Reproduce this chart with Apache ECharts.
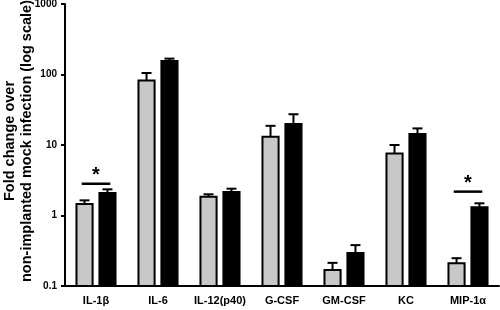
<!DOCTYPE html>
<html>
<head>
<meta charset="utf-8">
<script src="https://cdn.jsdelivr.net/npm/echarts@6/dist/echarts.min.js"></script>
<style>
  html, body { margin: 0; padding: 0; background: #fff; }
  #main { width: 500px; height: 310px; }
</style>
</head>
<body>
<div id="main"></div>
<script>
// cytokine categories
var categories = ['IL-1β', 'IL-6', 'IL-12(p40)', 'G-CSF', 'GM-CSF', 'KC', 'MIP-1α'];
// grey bars (mock) and black bars (implanted): mean and mean+SEM
var greyMean  = [1.46, 82, 1.85, 13.1, 0.168, 7.6, 0.211];
var greyTop   = [1.64, 105, 2.0, 18.7, 0.213, 10, 0.248];
var blackMean = [2.09, 156, 2.16, 19.9, 0.295, 14.3, 1.31];
var blackTop  = [2.35, 168, 2.4, 27.3, 0.38, 17.2, 1.49];
// significance markers
var sigIndex = [0, 6];
var sigLevel = [2.82, 2.18];

var FONT = '"Liberation Sans", Arial, sans-serif';
var OFFSET = 0.185;   // bar centre offset, in category bands
var WIDTH = 0.26;     // bar width, in category bands

function barRender(sign, color) {
    return function (params, api) {
        var band = api.size([1, 0], [api.value(0), 1])[0];
        var top = api.coord([api.value(0), api.value(1)]);
        var base = api.coord([api.value(0), 0.1]);
        var w = band * WIDTH;
        var cx = top[0] + sign * band * OFFSET;
        return {
            type: 'rect',
            shape: { x: cx - w / 2, y: top[1], width: w, height: base[1] - top[1] },
            style: { fill: color, stroke: '#000', lineWidth: 2 }
        };
    };
}

function errRender(sign) {
    return function (params, api) {
        var band = api.size([1, 0], [api.value(0), 1])[0];
        var low = api.coord([api.value(0), api.value(1)]);
        var high = api.coord([api.value(0), api.value(2)]);
        var cx = low[0] + sign * band * OFFSET;
        var cap = 5;
        return {
            type: 'group',
            children: [
                { type: 'line', shape: { x1: cx, y1: low[1], x2: cx, y2: high[1] }, style: { stroke: '#000', lineWidth: 2 } },
                { type: 'line', shape: { x1: cx - cap, y1: high[1], x2: cx + cap, y2: high[1] }, style: { stroke: '#000', lineWidth: 2 } }
            ]
        };
    };
}

function sigRender(params, api) {
    var band = api.size([1, 0], [api.value(0), 1])[0];
    var p = api.coord([api.value(0), api.value(1)]);
    var half = band * 0.23;
    return {
        type: 'group',
        children: [
            { type: 'line', shape: { x1: p[0] - half, y1: p[1], x2: p[0] + half, y2: p[1] }, style: { stroke: '#000', lineWidth: 2.5 } },
            { type: 'text', x: p[0], y: p[1] + 2, style: { text: '*', fill: '#000', font: 'bold 20px ' + FONT, align: 'center', verticalAlign: 'bottom' } }
        ]
    };
}

var myChart = echarts.init(document.getElementById('main'));

var option = {
    animation: false,
    grid: { left: 65, right: 1, top: 4, bottom: 24, outerBoundsMode: 'none', containLabel: false },
    xAxis: {
        type: 'category',
        data: categories,
        axisLine: { lineStyle: { color: '#000', width: 2 } },
        axisTick: { alignWithLabel: true, length: 5, lineStyle: { color: '#000', width: 2 } },
        axisLabel: { color: '#000', fontWeight: 'bold', fontSize: 11, fontFamily: FONT, margin: 9, interval: 0 }
    },
    yAxis: {
        type: 'log',
        logBase: 10,
        min: 0.1,
        max: 1000,
        name: 'Fold change over\nnon-implanted mock infection (log scale)',
        nameLocation: 'middle',
        nameRotate: 90,
        nameGap: 30,
        nameMoveOverlap: false,
        nameTextStyle: {
            color: '#000', fontWeight: 'bold', fontSize: 14.5, fontFamily: FONT, lineHeight: 17,
            padding: [0, 0, 0, 8]
        },
        splitLine: { show: false },
        axisLine: { show: true, lineStyle: { color: '#000', width: 2 } },
        axisTick: { show: true, length: 4, lineStyle: { color: '#000', width: 2 } },
        axisLabel: {
            color: '#000', fontWeight: 'bold', fontSize: 10, fontFamily: FONT, margin: 8,
            formatter: function (v) { return String(v); }
        }
    },
    series: [
        {
            type: 'custom', name: 'mock',
            renderItem: barRender(-1, '#c8c8c8'),
            data: categories.map(function (c, i) { return [i, greyMean[i]]; })
        },
        {
            type: 'custom', name: 'implanted',
            renderItem: barRender(1, '#000'),
            data: categories.map(function (c, i) { return [i, blackMean[i]]; })
        },
        {
            type: 'custom',
            renderItem: errRender(-1),
            data: categories.map(function (c, i) { return [i, greyMean[i], greyTop[i]]; })
        },
        {
            type: 'custom',
            renderItem: errRender(1),
            data: categories.map(function (c, i) { return [i, blackMean[i], blackTop[i]]; })
        },
        {
            type: 'custom',
            renderItem: sigRender,
            data: sigIndex.map(function (idx, i) { return [idx, sigLevel[i]]; })
        }
    ]
};

myChart.setOption(option);
</script>
</body>
</html>
